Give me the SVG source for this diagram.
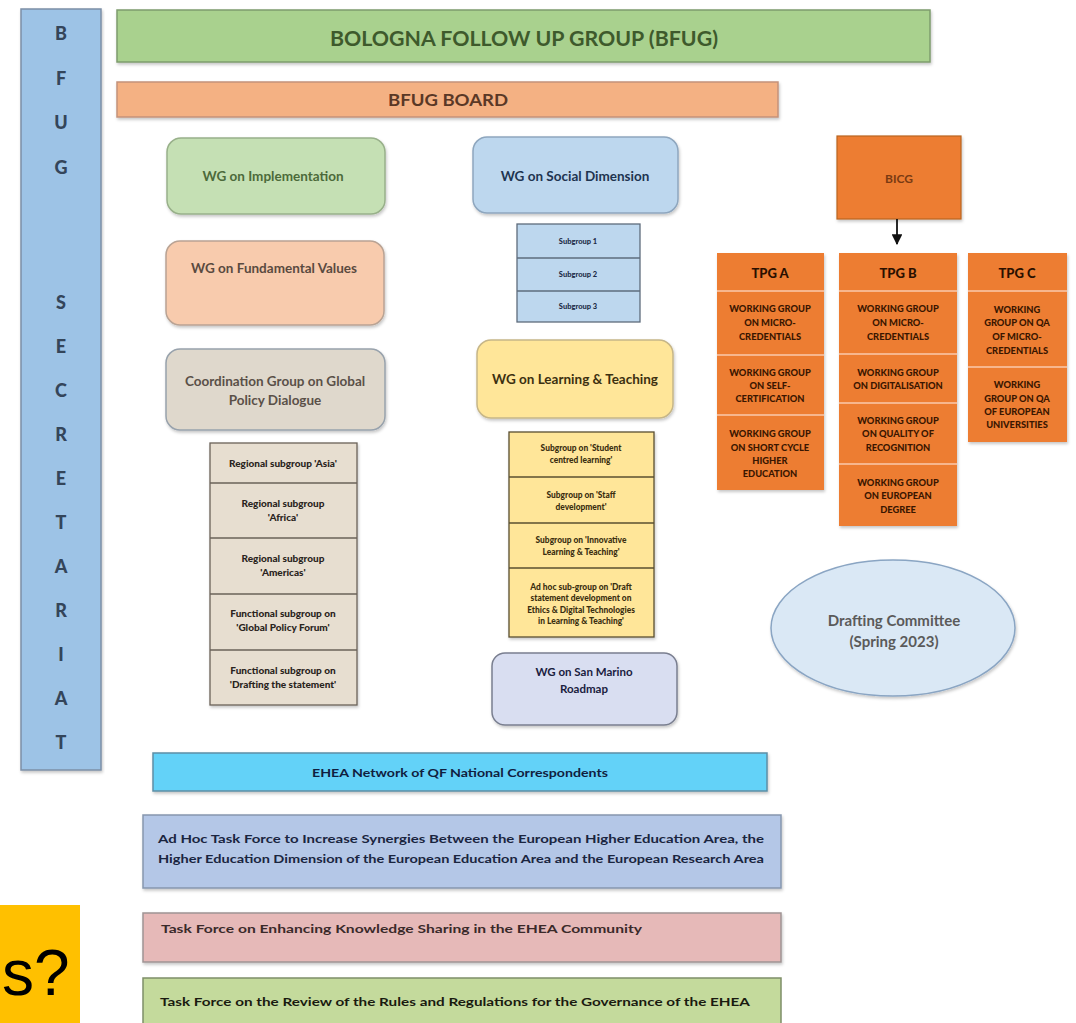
<svg xmlns="http://www.w3.org/2000/svg" width="1076" height="1023" viewBox="0 0 1076 1023">
<defs>
<filter id="sh" x="-5%" y="-10%" width="110%" height="130%"><feDropShadow dx="1" dy="2" stdDeviation="1.6" flood-color="#000" flood-opacity="0.22"/></filter>
<marker id="arr" viewBox="0 0 10 10" refX="9" refY="5" markerWidth="6" markerHeight="6" orient="auto"><path d="M0,0 L10,5 L0,10 z" fill="#111"/></marker>
<style>
text{font-family:Lato,"Open Sans","Liberation Sans",sans-serif;font-weight:700;text-anchor:middle;dominant-baseline:central}
.sec{fill:#9DC3E6;stroke:#7C8FA6;stroke-width:1.5}
.secT{font-size:18px;fill:#34455A;font-weight:900}
.wg{font-size:13.5px}
.cell{font-size:10px;font-weight:900}
.lt{font-size:8.4px;font-weight:900;fill:#3A2E10}
.sub{font-size:7.5px;font-weight:900;fill:#1E2C48}
.tpgH{font-size:13px;fill:#2A1000;font-weight:900}
.tpg{font-size:9.3px;fill:#3A1600;font-weight:900}
.sep{stroke:#F7B68E;stroke-width:2}
.tpgBox{fill:#ED7D31}
.bar{font-size:12px}
.left{text-anchor:start}
</style>
</defs>

<g id="secretariat">
<rect class="sec" x="21" y="9" width="80" height="761" filter="url(#sh)"/>
<text class="secT" x="61" y="33">B</text>
<text class="secT" x="61" y="78">F</text>
<text class="secT" x="61" y="122">U</text>
<text class="secT" x="61" y="167">G</text>
<text class="secT" x="61" y="302">S</text>
<text class="secT" x="61" y="346">E</text>
<text class="secT" x="61" y="390">C</text>
<text class="secT" x="61" y="434">R</text>
<text class="secT" x="61" y="478">E</text>
<text class="secT" x="61" y="522">T</text>
<text class="secT" x="61" y="566">A</text>
<text class="secT" x="61" y="610">R</text>
<text class="secT" x="61" y="654">I</text>
<text class="secT" x="61" y="698">A</text>
<text class="secT" x="61" y="742">T</text>
</g>

<g id="bfug">
<rect x="117" y="10" width="813" height="52" fill="#A9D18E" stroke="#7E9C6C" stroke-width="1.5" filter="url(#sh)"/>
<text x="524" y="37" style="font-size:21px;fill:#3E5A2C" textLength="388" lengthAdjust="spacingAndGlyphs">BOLOGNA FOLLOW UP GROUP (BFUG)</text>
</g>

<g id="bfug-board">
<rect x="117" y="82" width="661" height="35" fill="#F4B183" stroke="#C4927A" stroke-width="1.5" filter="url(#sh)"/>
<text x="448" y="99" style="font-size:17px;fill:#5A3826" textLength="120" lengthAdjust="spacingAndGlyphs">BFUG BOARD</text>
</g>

<g id="wg-implementation">
<rect x="167" y="138" width="218" height="76" rx="14" fill="#C5E0B4" stroke="#98B08A" stroke-width="1.5" filter="url(#sh)"/>
<text class="wg" x="273" y="176" fill="#4C6A3A">WG on Implementation</text>
</g>

<g id="wg-social-dimension">
<rect x="473" y="137" width="205" height="76" rx="14" fill="#BDD7EE" stroke="#8EA6BE" stroke-width="1.5" filter="url(#sh)"/>
<text class="wg" x="575" y="176" fill="#1E3450">WG on Social Dimension</text>
</g>

<g id="social-subgroups">
<rect x="517" y="224" width="123" height="98" fill="#BDD7EE" stroke="#5E6C7C" stroke-width="1.3"/>
<line x1="517" y1="258" x2="640" y2="258" stroke="#5E6C7C" stroke-width="1.3"/>
<line x1="517" y1="291" x2="640" y2="291" stroke="#5E6C7C" stroke-width="1.3"/>
<text class="sub" x="578" y="241">Subgroup 1</text>
<text class="sub" x="578" y="274">Subgroup 2</text>
<text class="sub" x="578" y="306">Subgroup 3</text>
</g>

<g id="wg-fundamental-values">
<rect x="166" y="241" width="218" height="84" rx="14" fill="#F8CBAD" stroke="#B9A394" stroke-width="1.5" filter="url(#sh)"/>
<text class="wg" x="274" y="268" fill="#5A4A40">WG on Fundamental Values</text>
</g>

<g id="coordination-group">
<rect x="166" y="349" width="219" height="81" rx="14" fill="#DFD8CC" stroke="#98A2AC" stroke-width="1.5" filter="url(#sh)"/>
<text class="wg" x="275" y="381" fill="#5A5048">Coordination Group on Global</text>
<text class="wg" x="275" y="400" fill="#5A5048">Policy Dialogue</text>
</g>

<g id="regional-subgroups">
<rect x="210" y="443" width="147" height="262" fill="#E7DED0" stroke="#6A6258" stroke-width="1.3" filter="url(#sh)"/>
<line x1="210" y1="483" x2="357" y2="483" stroke="#6A6258" stroke-width="1.3"/>
<line x1="210" y1="538" x2="357" y2="538" stroke="#6A6258" stroke-width="1.3"/>
<line x1="210" y1="594" x2="357" y2="594" stroke="#6A6258" stroke-width="1.3"/>
<line x1="210" y1="650" x2="357" y2="650" stroke="#6A6258" stroke-width="1.3"/>
<text class="cell" x="283" y="463" fill="#2A2420">Regional subgroup 'Asia'</text>
<text class="cell" x="283" y="503" fill="#2A2420">Regional subgroup</text>
<text class="cell" x="283" y="517" fill="#2A2420">'Africa'</text>
<text class="cell" x="283" y="558" fill="#2A2420">Regional subgroup</text>
<text class="cell" x="283" y="572" fill="#2A2420">'Americas'</text>
<text class="cell" x="283" y="613" fill="#2A2420">Functional subgroup on</text>
<text class="cell" x="283" y="627" fill="#2A2420">'Global Policy Forum'</text>
<text class="cell" x="283" y="670" fill="#2A2420">Functional subgroup on</text>
<text class="cell" x="283" y="684" fill="#2A2420">'Drafting the statement'</text>
</g>

<g id="wg-learning-teaching">
<rect x="477" y="340" width="196" height="78" rx="14" fill="#FFE699" stroke="#C6B688" stroke-width="1.5" filter="url(#sh)"/>
<text class="wg" x="575" y="379" fill="#3C3010">WG on Learning &amp; Teaching</text>
</g>

<g id="lt-subgroups">
<rect x="509" y="432" width="145" height="205" fill="#FFE699" stroke="#5A4F30" stroke-width="1.3" filter="url(#sh)"/>
<line x1="509" y1="477" x2="654" y2="477" stroke="#5A4F30" stroke-width="1.3"/>
<line x1="509" y1="523" x2="654" y2="523" stroke="#5A4F30" stroke-width="1.3"/>
<line x1="509" y1="568" x2="654" y2="568" stroke="#5A4F30" stroke-width="1.3"/>
<text class="lt" x="581" y="448">Subgroup on 'Student</text>
<text class="lt" x="581" y="460">centred learning'</text>
<text class="lt" x="581" y="495">Subgroup on 'Staff</text>
<text class="lt" x="581" y="507">development'</text>
<text class="lt" x="581" y="540">Subgroup on 'Innovative</text>
<text class="lt" x="581" y="552">Learning &amp; Teaching'</text>
<text class="lt" x="581" y="587">Ad hoc sub-group on 'Draft</text>
<text class="lt" x="581" y="598">statement development on</text>
<text class="lt" x="581" y="610">Ethics &amp; Digital Technologies</text>
<text class="lt" x="581" y="621">in Learning &amp; Teaching'</text>
</g>

<g id="wg-san-marino">
<rect x="492" y="653" width="185" height="72" rx="13" fill="#D9DEF1" stroke="#7A7F90" stroke-width="1.5" filter="url(#sh)"/>
<text x="584" y="671" style="font-size:11.5px;fill:#1A2040">WG on San Marino</text>
<text x="584" y="688" style="font-size:11.5px;fill:#1A2040">Roadmap</text>
</g>

<g id="bicg">
<rect x="837" y="136" width="124" height="83" fill="#ED7D31" stroke="#B96421" stroke-width="1.2" filter="url(#sh)"/>
<text x="899" y="178" style="font-size:12px;fill:#7A3A12">BICG</text>
</g>

<g id="tpg-a">
<rect class="tpgBox" x="717" y="253" width="107" height="237" filter="url(#sh)"/>
<line class="sep" x1="717" y1="291" x2="824" y2="291"/>
<line class="sep" x1="717" y1="355" x2="824" y2="355"/>
<line class="sep" x1="717" y1="415" x2="824" y2="415"/>
<text class="tpgH" x="770" y="273">TPG A</text>
<text class="tpg" x="770" y="308">WORKING GROUP</text>
<text class="tpg" x="770" y="322">ON MICRO-</text>
<text class="tpg" x="770" y="336">CREDENTIALS</text>
<text class="tpg" x="770" y="372">WORKING GROUP</text>
<text class="tpg" x="770" y="385">ON SELF-</text>
<text class="tpg" x="770" y="398">CERTIFICATION</text>
<text class="tpg" x="770" y="433">WORKING GROUP</text>
<text class="tpg" x="770" y="447">ON SHORT CYCLE</text>
<text class="tpg" x="770" y="460">HIGHER</text>
<text class="tpg" x="770" y="473">EDUCATION</text>
</g>

<g id="tpg-b">
<rect class="tpgBox" x="839" y="253" width="118" height="273" filter="url(#sh)"/>
<line class="sep" x1="839" y1="291" x2="957" y2="291"/>
<line class="sep" x1="839" y1="354" x2="957" y2="354"/>
<line class="sep" x1="839" y1="403" x2="957" y2="403"/>
<line class="sep" x1="839" y1="464" x2="957" y2="464"/>
<text class="tpgH" x="898" y="273">TPG B</text>
<text class="tpg" x="898" y="308">WORKING GROUP</text>
<text class="tpg" x="898" y="322">ON MICRO-</text>
<text class="tpg" x="898" y="336">CREDENTIALS</text>
<text class="tpg" x="898" y="372">WORKING GROUP</text>
<text class="tpg" x="898" y="385">ON DIGITALISATION</text>
<text class="tpg" x="898" y="420">WORKING GROUP</text>
<text class="tpg" x="898" y="433">ON QUALITY OF</text>
<text class="tpg" x="898" y="447">RECOGNITION</text>
<text class="tpg" x="898" y="482">WORKING GROUP</text>
<text class="tpg" x="898" y="495">ON EUROPEAN</text>
<text class="tpg" x="898" y="509">DEGREE</text>
</g>

<g id="tpg-c">
<rect class="tpgBox" x="968" y="253" width="99" height="189" filter="url(#sh)"/>
<line class="sep" x1="968" y1="291" x2="1067" y2="291"/>
<line class="sep" x1="968" y1="367" x2="1067" y2="367"/>
<text class="tpgH" x="1017" y="273">TPG C</text>
<text class="tpg" x="1017" y="309">WORKING</text>
<text class="tpg" x="1017" y="322">GROUP ON QA</text>
<text class="tpg" x="1017" y="336">OF MICRO-</text>
<text class="tpg" x="1017" y="350">CREDENTIALS</text>
<text class="tpg" x="1017" y="384">WORKING</text>
<text class="tpg" x="1017" y="398">GROUP ON QA</text>
<text class="tpg" x="1017" y="411">OF EUROPEAN</text>
<text class="tpg" x="1017" y="424">UNIVERSITIES</text>
</g>

<g id="drafting-committee">
<ellipse cx="893" cy="628" rx="122" ry="68" fill="#DAE8F5" stroke="#8AA5C3" stroke-width="1.5" filter="url(#sh)"/>
<text x="894" y="620" style="font-size:15px;fill:#5A5A5A">Drafting Committee</text>
<text x="894" y="641" style="font-size:15px;fill:#5A5A5A">(Spring 2023)</text>
</g>

<g id="ehea-network">
<rect x="153" y="753" width="614" height="38" fill="#64D2F8" stroke="#5C8EA6" stroke-width="1.5" filter="url(#sh)"/>
<text class="bar" x="460" y="772" fill="#10203F" textLength="296" lengthAdjust="spacingAndGlyphs">EHEA Network of QF National Correspondents</text>
</g>

<g id="adhoc-task-force">
<rect x="143" y="815" width="638" height="73" fill="#B4C7E7" stroke="#8696AE" stroke-width="1.5" filter="url(#sh)"/>
<text class="bar" x="461" y="838" fill="#1A2540" textLength="606" lengthAdjust="spacingAndGlyphs">Ad Hoc Task Force to Increase Synergies Between the European Higher Education Area, the</text>
<text class="bar" x="461" y="858" fill="#1A2540" textLength="606" lengthAdjust="spacingAndGlyphs">Higher Education Dimension of the European Education Area and the European Research Area</text>
</g>

<g id="knowledge-task-force">
<rect x="143" y="913" width="638" height="49" fill="#E6B9B8" stroke="#9E9494" stroke-width="1.5" filter="url(#sh)"/>
<text class="bar left" x="161" y="928" fill="#3A2A2A" textLength="481" lengthAdjust="spacingAndGlyphs">Task Force on Enhancing Knowledge Sharing in the EHEA Community</text>
</g>

<g id="review-task-force">
<rect x="143" y="978" width="638" height="50" fill="#C4DA9C" stroke="#7E8E68" stroke-width="1.5"/>
<text class="bar left" x="160" y="1001" fill="#1A1A10" textLength="590" lengthAdjust="spacingAndGlyphs">Task Force on the Review of the Rules and Regulations for the Governance of the EHEA</text>
</g>

<g id="question-box">
<rect x="0" y="905" width="80" height="118" fill="#FFC000"/>
<text x="2" y="995" style="font-family:'Liberation Sans',Arial,sans-serif;font-weight:400;font-size:64px;fill:#000;text-anchor:start;dominant-baseline:auto">s?</text>
</g>

<g id="connectors">
<line x1="897" y1="219" x2="897" y2="244" stroke="#111" stroke-width="1.8" marker-end="url(#arr)"/>
</g>
</svg>
